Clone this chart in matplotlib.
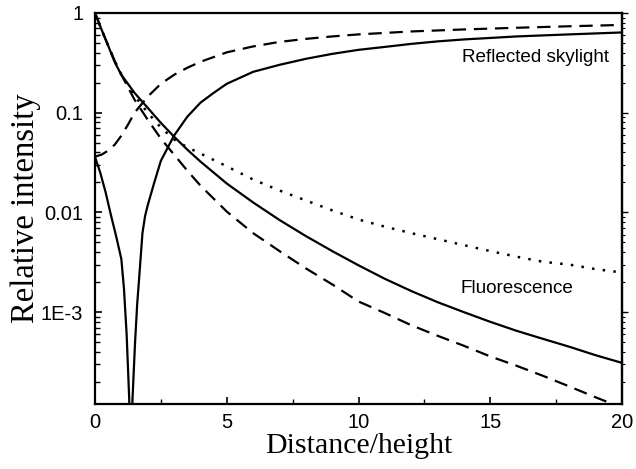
import matplotlib
matplotlib.use("Agg")
import matplotlib.pyplot as plt
from matplotlib.ticker import FixedLocator, FuncFormatter, MultipleLocator, LogLocator, NullFormatter

# Fluorescence-type, solid, decreasing
xa = [0, 0.25, 0.5, 0.75, 1, 1.5, 2, 2.5, 3, 3.5, 4, 5, 6, 7, 8, 9, 10,
      11, 12, 13, 14, 15, 16, 17, 18, 19, 20]
ya = [1.0, 0.68, 0.47, 0.32, 0.24, 0.158, 0.112, 0.079, 0.0575, 0.0427, 0.0324, 0.0195,
      0.0126, 0.0084, 0.0058, 0.0041, 0.00295, 0.00216, 0.00163, 0.00126, 0.001, 0.0008,
      0.00065, 0.00054, 0.00045, 0.00037, 0.00031]
# dashed, decreasing
xb = [0, 0.25, 0.5, 0.75, 1, 1.5, 2, 2.5, 3, 3.5, 4, 5, 6, 7, 8, 9, 10,
      11, 12, 13, 14, 15, 16, 17, 18, 19, 20]
yb = [1.0, 0.68, 0.47, 0.33, 0.24, 0.135, 0.085, 0.055, 0.038, 0.0263, 0.0186, 0.0102,
      0.0062, 0.0041, 0.00275, 0.0019, 0.00128, 0.00098, 0.00074, 0.00058, 0.00046, 0.00036,
      0.00029, 0.00023, 0.00018, 0.00014, 0.00011]
# dotted, decreasing
xc = [0, 0.25, 0.5, 0.75, 1, 1.5, 2, 2.5, 3, 3.5, 4, 5, 6, 7, 8, 9, 10,
      11, 12, 13, 14, 15, 16, 17, 18, 19, 20]
yc = [1.0, 0.68, 0.47, 0.33, 0.24, 0.148, 0.1, 0.071, 0.054, 0.045, 0.039, 0.029, 0.0214,
      0.0166, 0.0132, 0.0105, 0.0085, 0.0072, 0.0062, 0.0054, 0.0047, 0.0041, 0.0036,
      0.0032, 0.0030, 0.0027, 0.0025]
# reflected skylight, solid (passes through zero)
xd = [0, 0.2, 0.4, 0.6, 0.8, 1.0, 1.1, 1.2, 1.3, 1.36, 1.42, 1.52, 1.6, 1.7, 1.8, 1.9, 2.0,
      2.25, 2.5, 3, 3.5, 4, 4.5, 5, 6, 7, 8, 9, 10, 11, 12, 13, 14, 15, 16, 17, 18, 19, 20]
yd = [0.036, 0.025, 0.016, 0.0095, 0.0058, 0.0034, 0.0017, 0.0006, 0.00013, 1e-6, 0.00013,
      0.0005, 0.0012, 0.0027, 0.0062, 0.0092, 0.0118, 0.02, 0.033, 0.059, 0.091, 0.126, 0.158,
      0.195, 0.257, 0.302, 0.347, 0.389, 0.427, 0.457, 0.49, 0.519, 0.543, 0.562, 0.582,
      0.596, 0.61, 0.624, 0.638]
# reflected skylight, dashed
xe = [0, 0.25, 0.5, 0.75, 1, 1.25, 1.5, 2, 2.5, 3, 3.5, 4, 5, 6, 7, 8, 9, 10,
      12, 14, 16, 18, 20]
ye = [0.0363, 0.038, 0.0417, 0.0479, 0.0589, 0.0759, 0.1, 0.145, 0.195, 0.24, 0.282,
      0.324, 0.403, 0.462, 0.513, 0.55, 0.582, 0.61, 0.653, 0.684, 0.711, 0.736, 0.759]

yticks = [1, 0.1, 0.01, 0.001]
ytick_labels = ["1", "0.1", "0.01", "1E-3"]
xticks = [0, 5, 10, 15, 20]
sans = ["Liberation Sans", "DejaVu Sans"]
serif = ["Liberation Serif", "DejaVu Serif"]

fig = plt.figure(figsize=(6.36, 4.69), dpi=100)
ax = fig.add_axes([0.1494, 0.1386, 0.8286, 0.8337])

lw = 1.6
ax.plot(xa, ya, color="black", lw=lw)
ax.plot(xb, yb, color="black", lw=lw, dashes=(6, 3.5))
ax.plot(xc, yc, color="black", lw=1.8, dashes=(1, 3.3))
ax.plot(xd, yd, color="black", lw=lw)
ax.plot(xe, ye, color="black", lw=lw, dashes=(6, 3.5))

ax.set_yscale("log")
ax.set_xlim(0, 20)
ax.set_ylim(1.2e-4, 1)

ax.xaxis.set_major_locator(FixedLocator(xticks))
ax.xaxis.set_minor_locator(MultipleLocator(2.5))
ax.yaxis.set_major_locator(FixedLocator(yticks))
ax.yaxis.set_major_formatter(FuncFormatter(lambda v, p: dict(zip(yticks, ytick_labels)).get(v, "")))
ax.yaxis.set_minor_formatter(NullFormatter())

ax.tick_params(axis="both", which="major", direction="in", length=5, width=1.2,
               labelsize=14.5, top=False, right=False)
ax.tick_params(axis="both", which="minor", direction="in", length=3.5, width=1.0,
               top=False, right=False)
ax.tick_params(axis="y", pad=8.5)
ax.tick_params(axis="x", pad=6.5)
for lab in ax.get_xticklabels() + ax.get_yticklabels():
    lab.set_fontfamily(sans)

# right-hand ticks pointing outward
sec = ax.secondary_yaxis("right")
sec.yaxis.set_major_locator(FixedLocator(yticks))
sec.yaxis.set_minor_locator(LogLocator(base=10, subs=range(2, 10)))
sec.yaxis.set_major_formatter(NullFormatter())
sec.yaxis.set_minor_formatter(NullFormatter())
sec.tick_params(which="major", direction="out", length=4, width=1.0)
sec.tick_params(which="minor", direction="out", length=2.5, width=0.8)
sec.spines["right"].set_linewidth(1.6)

for s in ax.spines.values():
    s.set_linewidth(1.6)

ax.set_xlabel("Distance/height", family=serif, size=21.5, labelpad=0.5)
ax.set_ylabel("Relative intensity", family=serif, size=23.5, labelpad=0)

ax.text(0.975, 0.885, "Reflected skylight", transform=ax.transAxes, ha="right", va="center",
        family=sans, size=13.6)
ax.text(0.80, 0.295, "Fluorescence", transform=ax.transAxes, ha="center", va="center",
        family=sans, size=13.6)

fig.savefig("out.png", dpi=100)
